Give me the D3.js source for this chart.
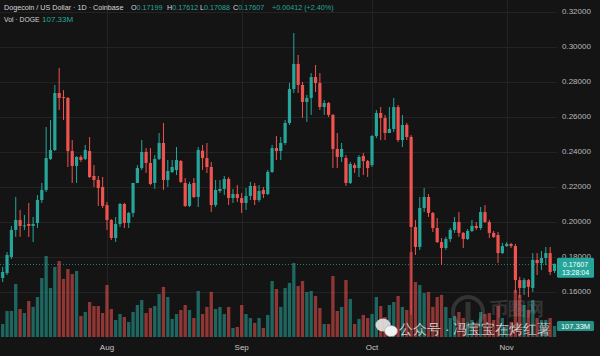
<!DOCTYPE html>
<html>
<head>
<meta charset="utf-8">
<script src="https://cdn.jsdelivr.net/npm/d3@7"></script>
<style>
  html, body { margin: 0; padding: 0; background: #141414; }
  svg { display: block; }
  text { font-family: "Liberation Sans", Arial, sans-serif; }
</style>
</head>
<body>
<svg id="chart" width="600" height="356"></svg>
<script>
// ---------------- data ----------------
const firstDay = "2025-07-07";
const open = [0.1754,0.1680,0.1708,0.1800,0.1954,0.2011,0.1977,0.1988,0.1977,0.1994,0.2125,0.2182,0.2359,0.2410,0.2735,0.2712,0.2707,0.2404,0.2319,0.2370,0.2359,0.2404,0.2262,0.2239,0.2199,0.2096,0.2011,0.1908,0.1988,0.2102,0.1994,0.2051,0.2222,0.2307,0.2399,0.2336,0.2222,0.2359,0.2450,0.2239,0.2285,0.2296,0.2347,0.2222,0.2091,0.2222,0.2142,0.2406,0.2364,0.2313,0.2096,0.2176,0.2188,0.2245,0.2136,0.2159,0.2136,0.2108,0.2148,0.2205,0.2125,0.2182,0.2159,0.2285,0.2421,0.2404,0.2450,0.2564,0.2758,0.2901,0.2781,0.2684,0.2707,0.2826,0.2792,0.2655,0.2678,0.2610,0.2416,0.2370,0.2364,0.2222,0.2324,0.2307,0.2376,0.2347,0.2324,0.2490,0.2621,0.2593,0.2507,0.2530,0.2655,0.2467,0.2553,0.2484,0.1971,0.1857,0.2079,0.2142,0.2051,0.1965,0.1885,0.1851,0.1902,0.1954,0.1999,0.1937,0.1902,0.1948,0.1977,0.1965,0.2056,0.1999,0.1937,0.1925,0.1822,0.1862,0.1874,0.1862,0.1668,0.1623,0.1668,0.1623,0.1783,0.1765,0.1794,0.1822,0.17199];
const high = [0.1771,0.1743,0.1828,0.1977,0.2142,0.2068,0.2039,0.2108,0.2028,0.2153,0.2222,0.2541,0.2581,0.2781,0.2878,0.2752,0.2712,0.2467,0.2375,0.2381,0.2439,0.2484,0.2324,0.2262,0.2256,0.2113,0.2016,0.2028,0.2108,0.2108,0.2056,0.2222,0.2324,0.2467,0.2421,0.2421,0.2381,0.2507,0.2564,0.2353,0.2353,0.2427,0.2353,0.2250,0.2228,0.2250,0.2427,0.2439,0.2450,0.2342,0.2239,0.2239,0.2262,0.2256,0.2188,0.2210,0.2165,0.2193,0.2228,0.2222,0.2210,0.2199,0.2296,0.2439,0.2490,0.2484,0.2581,0.2792,0.3077,0.2952,0.2798,0.2724,0.2849,0.2895,0.2849,0.2695,0.2684,0.2615,0.2507,0.2450,0.2381,0.2342,0.2336,0.2381,0.2393,0.2353,0.2495,0.2638,0.2655,0.2610,0.2655,0.2707,0.2667,0.2610,0.2564,0.2495,0.2011,0.2142,0.2193,0.2159,0.2056,0.2022,0.1908,0.1914,0.1965,0.2028,0.2056,0.1942,0.1959,0.2011,0.1999,0.2085,0.2096,0.2011,0.1948,0.1942,0.1880,0.1885,0.1880,0.1874,0.1686,0.1680,0.1674,0.1822,0.1822,0.1834,0.1857,0.1857,0.17612];
const low = [0.1680,0.1657,0.1697,0.1788,0.1914,0.1914,0.1954,0.1914,0.1885,0.1965,0.2108,0.2170,0.2353,0.2404,0.2638,0.2581,0.2313,0.2222,0.2222,0.2342,0.2353,0.2250,0.2199,0.2091,0.2079,0.1954,0.1897,0.1885,0.1971,0.1965,0.1965,0.2028,0.2222,0.2296,0.2279,0.2210,0.2188,0.2353,0.2182,0.2199,0.2279,0.2267,0.2222,0.2085,0.2085,0.2136,0.2085,0.2296,0.2279,0.2056,0.2085,0.2165,0.2153,0.2096,0.2108,0.2113,0.2051,0.2068,0.2125,0.2096,0.2113,0.2136,0.2153,0.2279,0.2353,0.2353,0.2439,0.2553,0.2735,0.2735,0.2593,0.2570,0.2610,0.2741,0.2638,0.2610,0.2598,0.2307,0.2307,0.2342,0.2205,0.2216,0.2279,0.2256,0.2267,0.2256,0.2313,0.2478,0.2467,0.2467,0.2507,0.2513,0.2456,0.2427,0.2467,0.1470,0.1811,0.1840,0.2056,0.2028,0.1942,0.1880,0.1754,0.1840,0.1885,0.1937,0.1914,0.1851,0.1897,0.1942,0.1954,0.1954,0.1994,0.1908,0.1908,0.1765,0.1817,0.1857,0.1851,0.1594,0.1566,0.1583,0.1571,0.1600,0.1697,0.1725,0.1754,0.1697,0.17088];
const close = [0.1697,0.1714,0.1811,0.1954,0.2011,0.1977,0.1980,0.1977,0.1988,0.2125,0.2182,0.2364,0.2410,0.2735,0.2707,0.2707,0.2404,0.2319,0.2370,0.2353,0.2410,0.2256,0.2239,0.2193,0.2091,0.2011,0.1908,0.1988,0.2102,0.1994,0.2051,0.2222,0.2307,0.2399,0.2336,0.2216,0.2359,0.2450,0.2239,0.2290,0.2313,0.2353,0.2228,0.2091,0.2216,0.2142,0.2410,0.2364,0.2313,0.2096,0.2182,0.2188,0.2245,0.2136,0.2159,0.2136,0.2108,0.2148,0.2205,0.2125,0.2176,0.2159,0.2285,0.2421,0.2404,0.2450,0.2564,0.2758,0.2901,0.2781,0.2684,0.2707,0.2826,0.2792,0.2655,0.2678,0.2610,0.2416,0.2370,0.2416,0.2222,0.2330,0.2307,0.2370,0.2347,0.2307,0.2490,0.2621,0.2593,0.2507,0.2530,0.2655,0.2467,0.2553,0.2484,0.1971,0.1857,0.2079,0.2142,0.2051,0.1965,0.1885,0.1851,0.1902,0.1954,0.1999,0.1937,0.1902,0.1948,0.1977,0.1965,0.2056,0.1999,0.1937,0.1914,0.1822,0.1862,0.1874,0.1862,0.1668,0.1623,0.1668,0.1629,0.1783,0.1765,0.1794,0.1822,0.1714,0.17607];
const volume = [195,127,254,254,517,273,234,351,293,390,575,790,478,683,741,566,663,614,644,205,244,341,302,302,234,507,273,166,224,195,146,244,312,361,234,283,302,419,488,390,176,224,263,312,263,185,449,224,293,439,273,293,224,293,88,98,312,224,185,137,185,88,215,546,468,293,478,527,722,497,546,439,449,400,283,127,127,595,254,293,556,371,127,176,215,185,224,390,302,195,312,341,400,293,263,829,536,507,429,439,293,390,410,293,185,205,244,185,146,166,117,244,224,234,166,302,185,117,146,458,410,312,263,361,185,166,166,185,107.33];
const priceTicks = [0.16,0.18,0.20,0.22,0.24,0.26,0.28,0.30,0.32];
const header = { title: "Dogecoin / US Dollar · 1D · Coinbase", volTitle: "Vol · DOGE" };
const ohlcLabels = ["O","H","L","C"];
const lastChange = "+0.00412 (+2.40%)";
const lastVolLabel = "107.33M";
const countdown = "13:28:04";
const watermark = "公众号 · 冯宝宝在烤红薯";
const logoText = "币圈网";

// ---------------- layout ----------------
const W = 600, H = 356;
const plotW = 557, plotH = 339;
const UP = "#26a69a", DOWN = "#ef5350";
const svg = d3.select("#chart");
svg.append("rect").attr("width", W).attr("height", H).attr("fill", "#141414");

const parse = d3.utcParse("%Y-%m-%d");
const start = parse(firstDay);
const dates = d3.utcDay.range(start, d3.utcDay.offset(start, open.length));
const data = dates.map((d, i) => ({ date: d, o: open[i], h: high[i], l: low[i], c: close[i], v: volume[i] }));

const x = d3.scaleUtc()
  .domain([d3.utcDay.offset(start, 1), d3.utcDay.offset(start, 128)])
  .range([2.7, 554.5]);
const y = d3.scaleLinear().domain([0.16, 0.32]).range([292, 11.5]);
const yv = d3.scaleLinear().domain([0, 1000]).range([337, 234.4]);

svg.append("clipPath").attr("id", "clip")
  .append("rect").attr("width", plotW).attr("height", plotH);
const plot = svg.append("g").attr("clip-path", "url(#clip)");

// grid
const months = d3.utcMonth.range(d3.utcMonth.ceil(dates[0]), d3.utcDay.offset(dates[dates.length - 1], 1));
plot.append("g").selectAll("line").data(priceTicks).join("line")
  .attr("x1", 0).attr("x2", plotW)
  .attr("y1", d => Math.round(y(d)) + 0.5).attr("y2", d => Math.round(y(d)) + 0.5)
  .attr("stroke", "#232323").attr("stroke-width", 1);
plot.append("g").selectAll("line").data(months).join("line")
  .attr("x1", d => Math.round(x(d)) + 0.5).attr("x2", d => Math.round(x(d)) + 0.5)
  .attr("y1", 0).attr("y2", plotH)
  .attr("stroke", "#232323").attr("stroke-width", 1);

// volume
const bw = 3.3;
plot.append("g").selectAll("rect").data(data).join("rect")
  .attr("x", d => x(d.date) - bw / 2)
  .attr("width", bw)
  .attr("y", d => yv(d.v))
  .attr("height", d => yv(0) - yv(d.v))
  .attr("fill", d => d.c >= d.o ? UP : DOWN)
  .attr("fill-opacity", 0.57);

// current price line
const last = data[data.length - 1];
plot.append("line")
  .attr("x1", 0).attr("x2", plotW)
  .attr("y1", Math.round(y(last.c)) + 0.5).attr("y2", Math.round(y(last.c)) + 0.5)
  .attr("stroke", UP).attr("stroke-opacity", 0.7).attr("stroke-dasharray", "1,2");

// candles
const cw = 3.2;
const candles = plot.append("g").selectAll("g").data(data).join("g");
candles.append("line")
  .attr("x1", d => x(d.date)).attr("x2", d => x(d.date))
  .attr("y1", d => y(d.h)).attr("y2", d => y(d.l))
  .attr("stroke", d => d.c >= d.o ? UP : DOWN).attr("stroke-width", 1);
candles.append("rect")
  .attr("x", d => x(d.date) - cw / 2)
  .attr("width", cw)
  .attr("y", d => y(Math.max(d.o, d.c)))
  .attr("height", d => Math.max(1, Math.abs(y(d.o) - y(d.c))))
  .attr("fill", d => d.c >= d.o ? UP : DOWN);

// price axis labels
svg.append("g").selectAll("text").data(priceTicks).join("text")
  .attr("x", 562).attr("y", d => y(d) + 2.3)
  .attr("font-size", 8).attr("fill", "#b8b8b8")
  .text(d => d3.format(".5f")(d));

// time axis labels
svg.append("g").selectAll("text").data(months).join("text")
  .attr("x", d => x(d)).attr("y", 350)
  .attr("text-anchor", "middle")
  .attr("font-size", 8).attr("fill", "#c8c8c8")
  .text(d => d3.utcFormat("%b")(d));

// last price label
const pl = svg.append("g");
pl.append("rect").attr("x", 557).attr("y", y(last.c) - 6.2).attr("width", 37).attr("height", 20)
  .attr("rx", 1.5).attr("fill", UP);
pl.append("text").attr("x", 575.5).attr("y", y(last.c) + 3.6).attr("text-anchor", "middle")
  .attr("font-size", 7).attr("fill", "#ffffff").text(d3.format(".5f")(last.c));
pl.append("text").attr("x", 575.5).attr("y", y(last.c) + 11.6).attr("text-anchor", "middle")
  .attr("font-size", 7).attr("fill", "#ffffff").text(countdown);

// last volume label
const vl = svg.append("g");
vl.append("rect").attr("x", 557).attr("y", yv(last.v) - 5).attr("width", 37).attr("height", 10)
  .attr("rx", 1.5).attr("fill", UP).attr("fill-opacity", 0.85);
vl.append("text").attr("x", 575.5).attr("y", yv(last.v) + 3).attr("text-anchor", "middle")
  .attr("font-size", 7.5).attr("fill", "#ffffff").text(lastVolLabel);

// header
const LIGHT = "#d6d6d6";
const hdr = svg.append("g").attr("font-size", 7.2);
hdr.append("text").attr("x", 4).attr("y", 10).attr("fill", LIGHT).text(header.title);
const ohlcVals = [last.o, last.h, last.l, last.c];
const ohlcX = [131, 167, 200, 233];
ohlcLabels.forEach((lab, i) => {
  const t = hdr.append("text").attr("x", ohlcX[i]).attr("y", 10);
  t.append("tspan").attr("fill", LIGHT).text(lab);
  t.append("tspan").attr("fill", UP).text(d3.format(".5f")(ohlcVals[i]));
});
hdr.append("text").attr("x", 272).attr("y", 10).attr("fill", UP).text(lastChange);
hdr.append("text").attr("x", 4).attr("y", 22).attr("fill", LIGHT).attr("font-size", 6.8).text(header.volTitle);
hdr.append("text").attr("x", 42).attr("y", 22).attr("fill", UP).attr("font-size", 8).text(lastVolLabel);

// watermark logo (faint)
const wm = svg.append("g").attr("opacity", 0.13);
wm.append("circle").attr("cx", 468).attr("cy", 312).attr("r", 15).attr("fill", "none").attr("stroke", "#ffffff").attr("stroke-width", 4);
wm.append("line").attr("x1", 468).attr("x2", 468).attr("y1", 302).attr("y2", 322).attr("stroke", "#ffffff").attr("stroke-width", 5);
wm.append("text").attr("x", 490).attr("y", 315).attr("font-size", 18)
  .attr("font-family", "Noto Sans CJK SC").attr("font-weight", "bold").attr("fill", "#ffffff").text(logoText);

// wechat watermark
const wc = svg.append("g");
wc.append("ellipse").attr("cx", 383).attr("cy", 325).attr("rx", 7.5).attr("ry", 6.5).attr("fill", "#e6e6e6").attr("opacity", 0.9);
wc.append("ellipse").attr("cx", 391).attr("cy", 331).attr("rx", 6.5).attr("ry", 5.5).attr("fill", "#f2f2f2").attr("stroke", "#999").attr("stroke-width", 0.5);
wc.append("text").attr("x", 399).attr("y", 334).attr("font-size", 14)
  .attr("font-family", "Noto Sans CJK SC").attr("fill", "#ffffff").attr("fill-opacity", 0.92)
  .attr("stroke", "#000000").attr("stroke-opacity", 0.25).attr("stroke-width", 0.6)
  .text(watermark);
</script>
</body>
</html>
